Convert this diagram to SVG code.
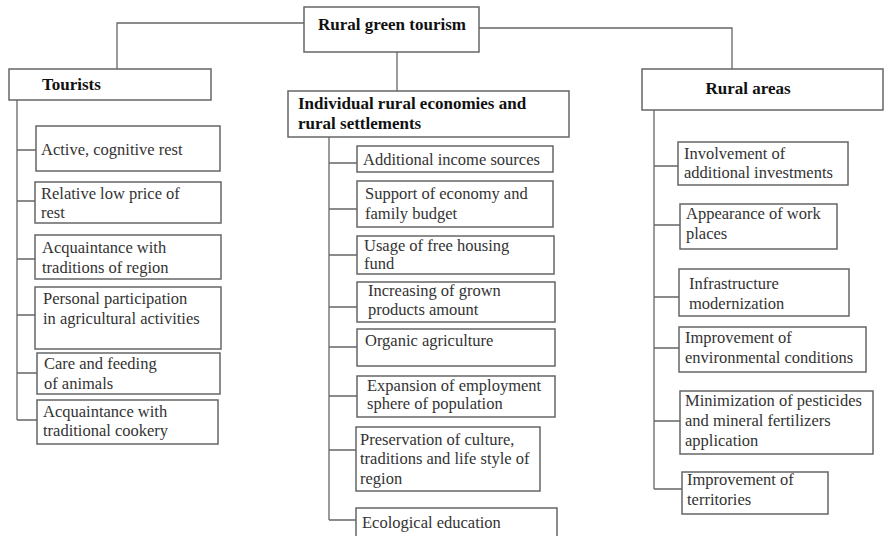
<svg xmlns="http://www.w3.org/2000/svg" width="884" height="536" viewBox="0 0 884 536">
<style>
.box{fill:#fff;stroke:#666;stroke-width:1.5}
.ln{fill:none;stroke:#666;stroke-width:1.3}
.t{font-family:"Liberation Serif","Times New Roman",serif;font-size:16.5px;fill:#333}
.h{font-family:"Liberation Serif","Times New Roman",serif;font-size:17px;font-weight:bold;fill:#111}
</style>
<rect width="884" height="536" fill="#fff"/>
<g id="connectors">
<path class="ln" d="M304,23 H117 V69"/>
<path class="ln" d="M479,28 H732 V69"/>
<path class="ln" d="M397,52 V91"/>
<path class="ln" d="M17,100 V420 M17,150 H36 M17,201 H35 M17,259 H35 M17,315 H35 M17,373 H37 M17,420 H37"/>
<path class="ln" d="M329,137 V520 M329,163 H357 M329,209 H357 M329,255 H357 M329,307 H357 M329,347 H357 M329,396 H357 M329,450 H356 M329,520 H356"/>
<path class="ln" d="M654,110 V489 M654,166 H678 M654,225 H680 M654,297 H679 M654,348 H679 M654,421 H680 M654,489 H682"/>
</g>
<g id="root"><rect class="box" x="304" y="7" width="175" height="45"/><text class="h" x="318" y="30">Rural green tourism</text></g>
<g id="tourists"><rect class="box" x="9" y="69" width="202" height="31"/><text class="h" x="42" y="90">Tourists</text></g>
<g id="economies"><rect class="box" x="288" y="91" width="281" height="46"/><text class="h" x="298" y="109">Individual rural economies and</text><text class="h" x="298" y="129">rural settlements</text></g>
<g id="areas"><rect class="box" x="642" y="69" width="241" height="41"/><text class="h" x="748" y="94" text-anchor="middle">Rural areas</text></g>
<g id="t1"><rect class="box" x="36" y="126" width="184" height="45"/><text class="t" x="41" y="155">Active, cognitive rest</text></g>
<g id="t2"><rect class="box" x="35" y="182" width="186" height="41"/><text class="t" x="41" y="199">Relative low price of</text><text class="t" x="41" y="218">rest</text></g>
<g id="t3"><rect class="box" x="35" y="235" width="186" height="44"/><text class="t" x="42" y="253">Acquaintance with</text><text class="t" x="42" y="273">traditions of region</text></g>
<g id="t4"><rect class="box" x="35" y="287" width="186" height="62"/><text class="t" x="43" y="304">Personal participation</text><text class="t" x="43" y="324">in agricultural activities</text></g>
<g id="t5"><rect class="box" x="37" y="353" width="183" height="41"/><text class="t" x="44" y="369">Care and feeding</text><text class="t" x="44" y="389">of animals</text></g>
<g id="t6"><rect class="box" x="37" y="400" width="181" height="44"/><text class="t" x="43" y="417">Acquaintance with</text><text class="t" x="43" y="436">traditional cookery</text></g>
<g id="e1"><rect class="box" x="357" y="146" width="196" height="26"/><text class="t" x="363" y="165">Additional income sources</text></g>
<g id="e2"><rect class="box" x="357" y="181" width="196" height="46"/><text class="t" x="365" y="199">Support of economy and</text><text class="t" x="365" y="219">family budget</text></g>
<g id="e3"><rect class="box" x="357" y="236" width="197" height="38"/><text class="t" x="364" y="251">Usage of free housing</text><text class="t" x="364" y="269">fund</text></g>
<g id="e4"><rect class="box" x="357" y="282" width="198" height="40"/><text class="t" x="368" y="296">Increasing of grown</text><text class="t" x="368" y="315">products amount</text></g>
<g id="e5"><rect class="box" x="357" y="329" width="198" height="37"/><text class="t" x="365" y="346">Organic agriculture</text></g>
<g id="e6"><rect class="box" x="357" y="376" width="198" height="41"/><text class="t" x="367" y="391">Expansion of employment</text><text class="t" x="367" y="409">sphere of population</text></g>
<g id="e7"><rect class="box" x="356" y="427" width="184" height="64"/><text class="t" x="360" y="445">Preservation of culture,</text><text class="t" x="360" y="464">traditions and life style of</text><text class="t" x="360" y="484">region</text></g>
<g id="e8"><rect class="box" x="356" y="508" width="201" height="30"/><text class="t" x="362" y="528">Ecological education</text></g>
<g id="a1"><rect class="box" x="678" y="142" width="170" height="43"/><text class="t" x="684" y="159">Involvement of</text><text class="t" x="684" y="178">additional investments</text></g>
<g id="a2"><rect class="box" x="680" y="204" width="157" height="45"/><text class="t" x="686" y="219">Appearance of work</text><text class="t" x="686" y="239">places</text></g>
<g id="a3"><rect class="box" x="679" y="269" width="170" height="47"/><text class="t" x="689" y="289">Infrastructure</text><text class="t" x="689" y="309">modernization</text></g>
<g id="a4"><rect class="box" x="679" y="327" width="187" height="45"/><text class="t" x="685" y="343">Improvement of</text><text class="t" x="685" y="363">environmental conditions</text></g>
<g id="a5"><rect class="box" x="680" y="391" width="193" height="63"/><text class="t" x="685" y="406">Minimization of pesticides</text><text class="t" x="685" y="426">and mineral fertilizers</text><text class="t" x="685" y="446">application</text></g>
<g id="a6"><rect class="box" x="682" y="472" width="146" height="42"/><text class="t" x="687" y="485">Improvement of</text><text class="t" x="687" y="505">territories</text></g>
</svg>
